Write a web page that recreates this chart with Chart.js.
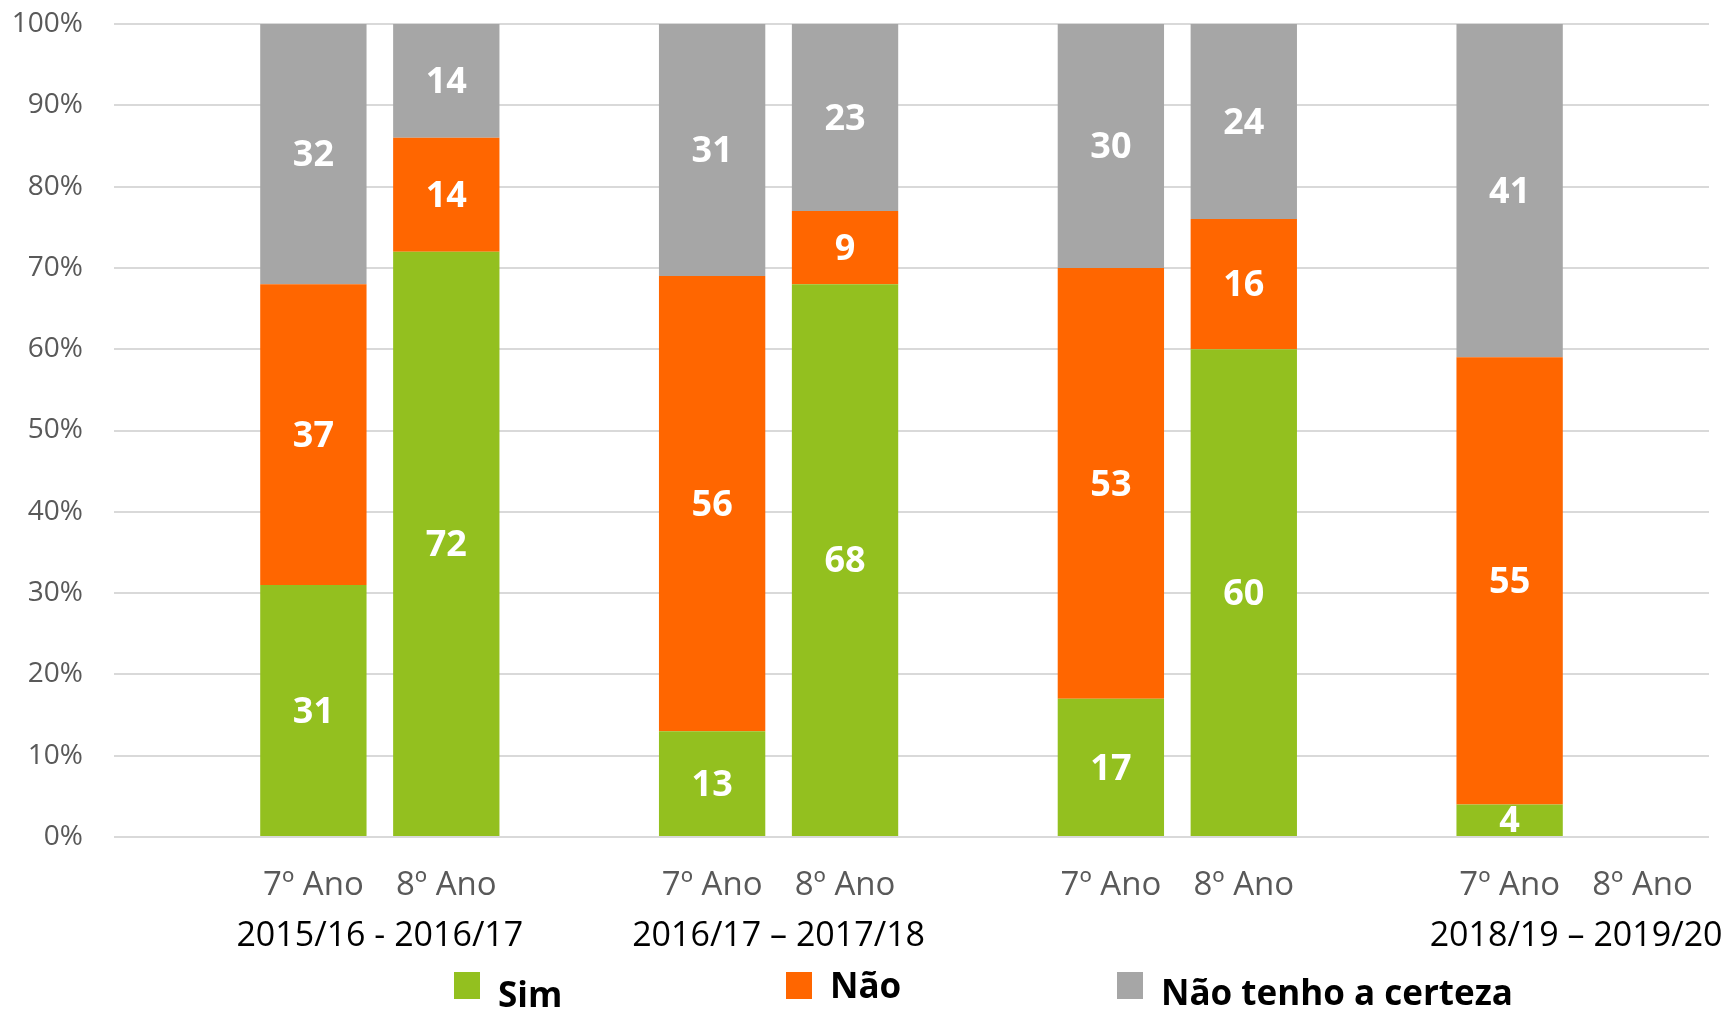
<!DOCTYPE html>
<html>
<head>
<meta charset="utf-8">
<script src="https://cdn.jsdelivr.net/npm/chart.js@4"></script>
<style>
  html, body { margin: 0; padding: 0; background: #ffffff; }
  #wrap { width: 1734px; height: 1011px; }
</style>
</head>
<body>
<div id="wrap"><canvas id="c" width="1734" height="1011"></canvas></div>
<script>
// ---- data ----
const categories = ["", "7º Ano", "8º Ano", "", "7º Ano", "8º Ano", "", "7º Ano", "8º Ano", "", "7º Ano", "8º Ano"];
const simValues = [null, 31, 72, null, 13, 68, null, 17, 60, null, 4, null];
const naoValues = [null, 37, 14, null, 56, 9, null, 53, 16, null, 55, null];
const incertoValues = [null, 32, 14, null, 31, 23, null, 30, 24, null, 41, null];
const seriesNames = ["Sim", "Não", "Não tenho a certeza"];
const groupLabels = ["2015/16 - 2016/17", "2016/17 – 2017/18", "", "2018/19 – 2019/20"];
const groupStartIndex = [1, 4, 7, 10];
const yTicks = [0, 10, 20, 30, 40, 50, 60, 70, 80, 90, 100];

const FONT = "'Open Sans', 'Noto Sans', sans-serif";

const dataLabelPlugin = {
  id: 'dataLabels',
  afterDatasetsDraw(chart) {
    const ctx = chart.ctx;
    ctx.save();
    ctx.fillStyle = '#ffffff';
    ctx.font = "bold 36px " + FONT;
    ctx.textAlign = 'center';
    ctx.textBaseline = 'middle';
    chart.data.datasets.forEach((ds, i) => {
      const meta = chart.getDatasetMeta(i);
      meta.data.forEach((el, j) => {
        const v = ds.data[j];
        if (v == null) return;
        const p = el.getProps(['x', 'y', 'base'], true);
        ctx.fillText(String(v), p.x, (p.y + p.base) / 2 + 2);
      });
    });
    ctx.restore();
  }
};

const groupLabelPlugin = {
  id: 'groupLabels',
  afterDraw(chart) {
    const ctx = chart.ctx;
    const xs = chart.scales.x;
    ctx.save();
    ctx.fillStyle = '#000000';
    ctx.font = "34px " + FONT;
    ctx.textAlign = 'center';
    ctx.textBaseline = 'alphabetic';
    groupLabels.forEach((lab, g) => {
      if (!lab) return;
      const i = groupStartIndex[g];
      const x = (xs.getPixelForValue(i) + xs.getPixelForValue(i + 1)) / 2;
      ctx.fillText(lab, x, 946);
    });
    ctx.restore();
  }
};

const legendPlugin = {
  id: 'customLegend',
  afterDraw(chart) {
    const ctx = chart.ctx;
    const boxX = [454, 786, 1117];
    const baseY = [1007, 998, 1005];
    ctx.save();
    ctx.font = "bold 35px " + FONT;
    ctx.textAlign = 'left';
    ctx.textBaseline = 'alphabetic';
    chart.data.datasets.forEach((ds, i) => {
      ctx.fillStyle = ds.backgroundColor;
      ctx.fillRect(boxX[i], 972, 26, 27);
      ctx.fillStyle = '#000000';
      ctx.fillText(ds.label, boxX[i] + 44, baseY[i]);
    });
    ctx.restore();
  }
};

new Chart(document.getElementById('c'), {
  type: 'bar',
  data: {
    labels: categories,
    datasets: [
      { label: seriesNames[0], data: simValues, backgroundColor: '#93C01F' },
      { label: seriesNames[1], data: naoValues, backgroundColor: '#FF6600' },
      { label: seriesNames[2], data: incertoValues, backgroundColor: '#A6A6A6' }
    ]
  },
  options: {
    responsive: false,
    animation: false,
    devicePixelRatio: 1,
    layout: { padding: { top: 0, right: 25, left: 0, bottom: 0 } },
    datasets: { bar: { barPercentage: 0.8, categoryPercentage: 1.0 } },
    plugins: {
      legend: { display: false },
      tooltip: { enabled: false }
    },
    scales: {
      x: {
        stacked: true,
        grid: { display: false, drawTicks: false },
        border: { display: false },
        ticks: {
          color: '#595959',
          font: { family: FONT, size: 33 },
          padding: 29,
          maxRotation: 0,
          autoSkip: false
        },
        afterFit(scale) { scale.height = 174; }
      },
      y: {
        stacked: true,
        min: 0,
        max: 100,
        afterBuildTicks(scale) { scale.ticks = yTicks.map(v => ({ value: v })); },
        grid: { color: '#d9d9d9', lineWidth: 2, drawTicks: false },
        border: { display: false },
        ticks: {
          color: '#595959',
          font: { family: FONT, size: 28 },
          padding: 31,
          callback: v => v + '%'
        },
        afterFit(scale) { scale.width = 114; scale.paddingTop = 24; scale.paddingBottom = 0; }
      }
    }
  },
  plugins: [dataLabelPlugin, groupLabelPlugin, legendPlugin]
});
</script>
</body>
</html>
